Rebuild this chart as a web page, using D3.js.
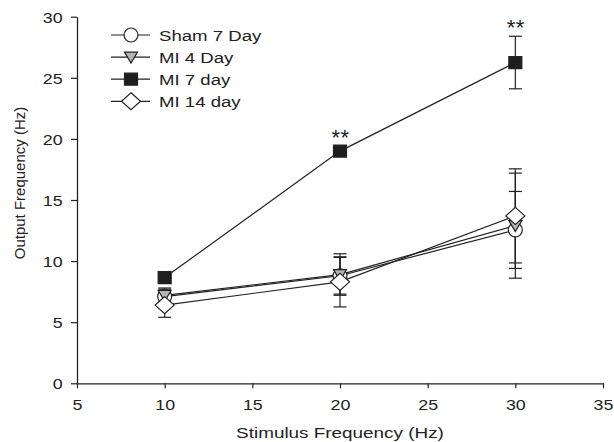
<!DOCTYPE html>
<html>
<head>
<meta charset="utf-8">
<script src="https://cdn.jsdelivr.net/npm/d3@7"></script>
<style>
  body { margin: 0; background: #fff; }
  svg { display: block; font-family: "Liberation Sans", Arial, Helvetica, sans-serif; }
</style>
</head>
<body>
<svg id="chart"></svg>
<script>
// values (mean and +/- error), stimulus 10/20/30 Hz
const stimulus = [10, 20, 30];
const xTicks = [5, 10, 15, 20, 25, 30, 35];
const yTicks = [0, 5, 10, 15, 20, 25, 30];

const shamMean = [7.1, 8.8, 12.55];
const shamErr  = [0.7, 1.5, 3.15];
const mi4Mean  = [7.2, 8.9, 12.9];
const mi4Err   = [0.5, 1.7, 4.3];
const mi7Mean  = [8.65, 19.0, 26.25];
const mi7Err   = [0.45, 0.4, 2.15];
const mi14Mean = [6.4, 8.3, 13.7];
const mi14Err  = [1.0, 2.05, 3.85];
const mi7Sig   = ["", "**", "**"];

const seriesNames = ["Sham 7 Day", "MI 4 Day", "MI 7 day", "MI 14 day"];

const width = 614, height = 442;
const margin = {top: 16.7, right: 11, bottom: 58.7, left: 77};
const ink = "#222";
const xStretch = 1.15;   // source figure was slightly widened

const svg = d3.select("#chart").attr("width", width).attr("height", height);

const x = d3.scaleLinear().domain([5, 35]).range([margin.left, width - margin.right]);
const y = d3.scaleLinear().domain([0, 30]).range([height - margin.bottom, margin.top]);

// marker shapes
const markerPath = {
  circle: d3.symbol().type(d3.symbolCircle).size(Math.PI * 7 * 7)(),
  triangle: "M-6.5,-5L6.5,-5L0,6Z",
  square: "M-6.5,-6L6.5,-6L6.5,6L-6.5,6Z",
  diamond: "M0,-8.5L9.5,0L0,8.5L-9.5,0Z"
};

const series = [
  {name: seriesNames[0], mean: shamMean, err: shamErr, shape: "circle",   fill: "#fff"},
  {name: seriesNames[1], mean: mi4Mean,  err: mi4Err,  shape: "triangle", fill: "#b4b4b4"},
  {name: seriesNames[2], mean: mi7Mean,  err: mi7Err,  shape: "square",   fill: "#1e1e1e"},
  {name: seriesNames[3], mean: mi14Mean, err: mi14Err, shape: "diamond",  fill: "#fff"}
].map(s => ({...s, points: stimulus.map((v, i) => ({x: v, y: s.mean[i], e: s.err[i]}))}));

// axes
const xAxis = svg.append("g")
  .attr("transform", `translate(0,${y(0)})`)
  .call(d3.axisBottom(x).tickValues(xTicks).tickSize(5).tickSizeOuter(0));
const yAxis = svg.append("g")
  .attr("transform", `translate(${x(5)},0)`)
  .call(d3.axisLeft(y).tickValues(yTicks).tickSize(6).tickSizeOuter(0));

[xAxis, yAxis].forEach(g => {
  g.select(".domain").attr("stroke", ink).attr("stroke-width", 1.3);
  g.selectAll(".tick line").attr("stroke", ink).attr("stroke-width", 1.2);
  g.selectAll(".tick text")
    .attr("fill", ink)
    .attr("font-size", 15.5)
    .attr("font-family", "Liberation Sans, Arial, sans-serif");
});
xAxis.selectAll(".tick text").attr("y", 27).attr("dy", 0)
  .attr("transform", `scale(${xStretch},1)`);
yAxis.selectAll(".tick text").attr("x", -12.5).attr("dy", "0.35em")
  .attr("transform", `scale(${xStretch},1)`);

// axis titles
svg.append("text")
  .attr("transform", `translate(${(x(5) + x(35)) / 2},438) scale(1.22,1)`)
  .attr("text-anchor", "middle")
  .attr("font-size", 15.5)
  .attr("fill", ink)
  .text("Stimulus Frequency (Hz)");

svg.append("text")
  .attr("transform", "translate(25,183) rotate(-90)")
  .attr("text-anchor", "middle")
  .attr("font-size", 15)
  .attr("fill", ink)
  .text("Output Frequency (Hz)");

const line = d3.line().x(d => x(d.x)).y(d => y(d.y));

// error bars
const capHalf = 6.5;
series.forEach(s => {
  const g = svg.append("g").attr("stroke", ink).attr("stroke-width", 1.2);
  s.points.forEach(p => {
    g.append("line").attr("x1", x(p.x)).attr("x2", x(p.x))
      .attr("y1", y(p.y + p.e)).attr("y2", y(p.y - p.e));
    [p.y + p.e, p.y - p.e].forEach(v => {
      g.append("line").attr("x1", x(p.x) - capHalf).attr("x2", x(p.x) + capHalf)
        .attr("y1", y(v)).attr("y2", y(v));
    });
  });
});

// connecting lines
series.forEach(s => {
  svg.append("path")
    .attr("d", line(s.points))
    .attr("fill", "none")
    .attr("stroke", ink)
    .attr("stroke-width", 1.2);
});

// markers
series.forEach(s => {
  svg.append("g").selectAll("path")
    .data(s.points)
    .join("path")
    .attr("transform", d => `translate(${x(d.x)},${y(d.y)})`)
    .attr("d", markerPath[s.shape])
    .attr("fill", s.fill)
    .attr("stroke", ink)
    .attr("stroke-width", 1.2);
});

// significance stars over MI 7 day
svg.append("g").selectAll("text")
  .data(series[2].points.map((p, i) => ({...p, label: mi7Sig[i]})).filter(d => d.label))
  .join("text")
  .attr("x", d => x(d.x) + 0.5)
  .attr("y", d => y(d.y + d.e) - 1)
  .attr("text-anchor", "middle")
  .attr("font-size", 22)
  .attr("letter-spacing", 0.5)
  .attr("fill", ink)
  .text(d => d.label);

// legend
const legendX = 111, legendY = 35, rowGap = 22.1;
const legend = svg.append("g");
series.forEach((s, i) => {
  const row = legend.append("g").attr("transform", `translate(${legendX},${legendY + i * rowGap})`);
  row.append("line").attr("x1", 0).attr("x2", 39).attr("y1", 0).attr("y2", 0)
    .attr("stroke", ink).attr("stroke-width", 1.2);
  row.append("path").attr("transform", "translate(20,0)")
    .attr("d", markerPath[s.shape])
    .attr("fill", s.fill).attr("stroke", ink).attr("stroke-width", 1.2);
  row.append("text")
    .attr("transform", `translate(48,5.5) scale(1.2,1)`)
    .attr("font-size", 15.5)
    .attr("fill", ink)
    .text(s.name);
});
</script>
</body>
</html>
